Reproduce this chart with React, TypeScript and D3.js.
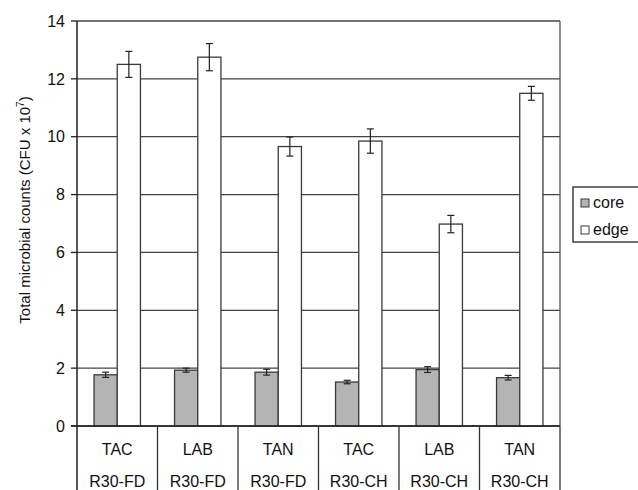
import React, { useEffect } from "react";
import * as d3 from "d3";

const categories = ["TAC", "LAB", "TAN", "TAC", "LAB", "TAN"];
const groups = ["R30-FD", "R30-FD", "R30-FD", "R30-CH", "R30-CH", "R30-CH"];
const coreValues = [1.77, 1.93, 1.86, 1.52, 1.95, 1.67];
const coreErrors = [0.09, 0.07, 0.1, 0.06, 0.1, 0.08];
const edgeValues = [12.5, 12.75, 9.66, 9.85, 6.98, 11.5];
const edgeErrors = [0.45, 0.47, 0.33, 0.42, 0.3, 0.24];
const yTicks = [0, 2, 4, 6, 8, 10, 12, 14];
const seriesNames = ["core", "edge"];

const W = 638;
const H = 490;
const left = 77;
const right = 560;
const top = 21;
const bottom = 426;
const FONT = "'Liberation Sans', Arial, sans-serif";

export default function App() {
  useEffect(() => {
    document.body.style.margin = "0";
    document.body.style.overflow = "hidden";
  }, []);

  const idx = categories.map((_, i) => i);
  const x = d3.scaleBand<number>().domain(idx).range([left, right]).padding(0);
  const y = d3.scaleLinear().domain([0, 14]).range([bottom, top]);
  const barW = 23.2;
  const colors = ["#b4b4b4", "#ffffff"];
  const series = [
    { vals: coreValues, errs: coreErrors },
    { vals: edgeValues, errs: edgeErrors },
  ];
  const stroke = "#3a3a3a";

  return (
    <svg width={W} height={H} style={{ position: "absolute", left: 0, top: 0, background: "#fff" }} fontFamily={FONT}>
      {/* gridlines */}
      {yTicks.map((t) => (
        <line key={"g" + t} x1={left} x2={right} y1={y(t)} y2={y(t)} stroke="#444" strokeWidth={1.3} />
      ))}
      {/* right border */}
      <line x1={right} x2={right} y1={top} y2={bottom} stroke="#555" strokeWidth={1.3} />
      {/* bars */}
      {series.map((s, si) =>
        idx.map((i) => {
          const cx = (x(i) as number) + x.bandwidth() / 2;
          const bx = cx - barW + si * barW;
          const yv = y(s.vals[i]);
          return (
            <g key={`b${si}-${i}`}>
              <rect x={bx} y={yv} width={barW} height={bottom - yv} fill={colors[si]} stroke={stroke} strokeWidth={1.3} />
              <line x1={bx + barW / 2} x2={bx + barW / 2} y1={y(s.vals[i] + s.errs[i])} y2={y(s.vals[i] - s.errs[i])} stroke="#222" strokeWidth={1.2} />
              <line x1={bx + barW / 2 - 3.5} x2={bx + barW / 2 + 3.5} y1={y(s.vals[i] + s.errs[i])} y2={y(s.vals[i] + s.errs[i])} stroke="#222" strokeWidth={1.2} />
              <line x1={bx + barW / 2 - 3.5} x2={bx + barW / 2 + 3.5} y1={y(s.vals[i] - s.errs[i])} y2={y(s.vals[i] - s.errs[i])} stroke="#222" strokeWidth={1.2} />
            </g>
          );
        })
      )}
      {/* y axis */}
      <line x1={left} x2={left} y1={top} y2={H} stroke="#222" strokeWidth={1.5} />
      {yTicks.map((t) => (
        <g key={"t" + t}>
          <line x1={left - 6} x2={left} y1={y(t)} y2={y(t)} stroke="#222" strokeWidth={1.3} />
          <text x={left - 12} y={y(t)} dy="0.36em" textAnchor="end" fontSize={16} fill="#111">
            {t}
          </text>
        </g>
      ))}
      {/* x axis line */}
      <line x1={left - 6} x2={right} y1={bottom} y2={bottom} stroke="#222" strokeWidth={1.5} />
      {/* category table */}
      {idx.map((i) => (
        <line key={"v" + i} x1={(x(i) as number) + x.bandwidth()} x2={(x(i) as number) + x.bandwidth()} y1={bottom} y2={H} stroke="#333" strokeWidth={1.3} />
      ))}
      {idx.map((i) => {
        const cx = (x(i) as number) + x.bandwidth() / 2;
        return (
          <g key={"c" + i}>
            <text x={cx} y={455} textAnchor="middle" fontSize={16} fill="#111">
              {categories[i]}
            </text>
            <text x={cx} y={487} textAnchor="middle" fontSize={16} fill="#111">
              {groups[i]}
            </text>
          </g>
        );
      })}
      {/* y label */}
      <text transform={`translate(30,${210}) rotate(-90)`} textAnchor="middle" fontSize={15} fill="#111">
        Total microbial counts (CFU x 10<tspan dy="-6" fontSize={10}>7</tspan>
        <tspan dy="6">)</tspan>
      </text>
      {/* legend */}
      <rect x={573} y={187} width={66} height={55} fill="#fff" stroke="#222" strokeWidth={1.3} />
      {seriesNames.map((n, i) => (
        <g key={"l" + n}>
          <rect x={581} y={199 + i * 27} width={8} height={8} fill={colors[i]} stroke={stroke} strokeWidth={1} />
          <text x={593} y={208 + i * 27} fontSize={16} fill="#111">
            {n}
          </text>
        </g>
      ))}
    </svg>
  );
}
